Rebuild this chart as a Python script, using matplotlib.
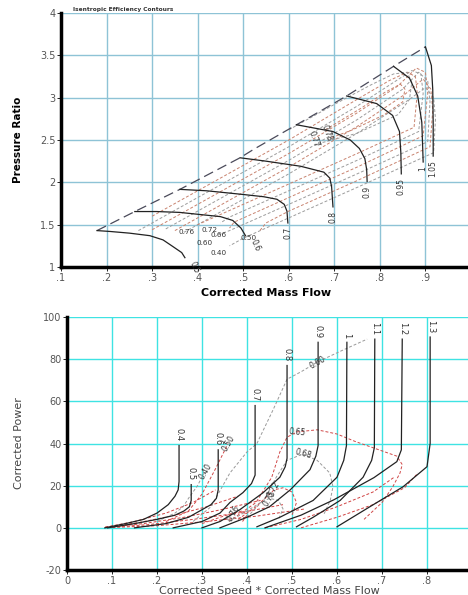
import matplotlib
matplotlib.use('Agg')
import matplotlib.pyplot as plt

# ---------------- top panel: compressor map ----------------
surge_x = [0.179, 0.262, 0.361, 0.493, 0.523, 0.617, 0.727, 0.83, 0.90]
surge_y = [1.43, 1.655, 1.917, 2.29, 2.39, 2.68, 3.02, 3.37, 3.60]

spd_lbl_top = ['0.5', '0.6', '0.7', '0.8', '0.9', '0.95', '1', '1.05']
spd_x_top = [
    [0.179, 0.207, 0.25, 0.295, 0.324, 0.346, 0.365, 0.372],
    [0.262, 0.31, 0.36, 0.405, 0.45, 0.477, 0.495, 0.505],
    [0.361, 0.42, 0.499, 0.545, 0.574, 0.59, 0.596, 0.598],
    [0.493, 0.55, 0.626, 0.677, 0.69, 0.694, 0.697],
    [0.617, 0.697, 0.735, 0.755, 0.767, 0.771, 0.772],
    [0.727, 0.793, 0.828, 0.843, 0.846, 0.847],
    [0.83, 0.865, 0.883, 0.892, 0.894, 0.895],
    [0.90, 0.913, 0.916, 0.917, 0.917],
]
spd_y_top = [
    [1.43, 1.42, 1.40, 1.37, 1.32, 1.24, 1.17, 1.11],
    [1.655, 1.655, 1.645, 1.62, 1.595, 1.55, 1.46, 1.37],
    [1.917, 1.90, 1.857, 1.83, 1.80, 1.74, 1.66, 1.52],
    [2.29, 2.25, 2.19, 2.12, 2.05, 1.95, 1.71],
    [2.68, 2.60, 2.50, 2.40, 2.28, 2.15, 2.01],
    [3.02, 2.93, 2.79, 2.60, 2.35, 2.10],
    [3.37, 3.23, 3.02, 2.71, 2.40, 2.24],
    [3.60, 3.38, 3.10, 2.70, 2.31],
]

eff_lbl_top = ['0.40', '0.50', '0.60', '0.66', '0.72', '0.76', '0.77', '0.78']
eff_x_top = [
    [0.37, 0.45, 0.60, 0.75, 0.865, 0.90, 0.918, 0.922, 0.918, 0.75, 0.60, 0.50, 0.47],
    [0.35, 0.45, 0.60, 0.75, 0.855, 0.895, 0.912, 0.916, 0.91, 0.75, 0.60, 0.55, 0.535],
    [0.33, 0.45, 0.60, 0.75, 0.85, 0.885, 0.905, 0.91, 0.905, 0.75, 0.60, 0.47, 0.44],
    [0.30, 0.45, 0.60, 0.75, 0.84, 0.88, 0.90, 0.905, 0.895, 0.75, 0.60, 0.48, 0.47],
    [0.27, 0.45, 0.60, 0.75, 0.83, 0.87, 0.89, 0.895, 0.885, 0.75, 0.60, 0.47, 0.45],
    [0.30, 0.45, 0.60, 0.75, 0.82, 0.86, 0.878, 0.882, 0.875, 0.75, 0.60, 0.45, 0.40],
    [0.60, 0.70, 0.78, 0.83, 0.86, 0.87, 0.865, 0.84, 0.75, 0.66],
    [0.68, 0.76, 0.81, 0.845, 0.855, 0.85, 0.81, 0.74, 0.69],
]
eff_y_top = [
    [1.41, 1.65, 2.10, 2.58, 2.98, 3.12, 3.00, 2.75, 2.35, 1.94, 1.58, 1.34, 1.25],
    [1.43, 1.73, 2.18, 2.66, 3.04, 3.22, 3.10, 2.85, 2.42, 2.02, 1.66, 1.52, 1.42],
    [1.45, 1.81, 2.26, 2.74, 3.10, 3.30, 3.20, 2.95, 2.48, 2.10, 1.74, 1.43, 1.37],
    [1.44, 1.89, 2.34, 2.82, 3.14, 3.35, 3.30, 3.05, 2.55, 2.18, 1.82, 1.53, 1.46],
    [1.43, 1.97, 2.42, 2.90, 3.18, 3.32, 3.28, 3.05, 2.60, 2.26, 1.90, 1.59, 1.52],
    [1.60, 2.05, 2.50, 2.98, 3.20, 3.30, 3.25, 3.05, 2.65, 2.34, 1.98, 1.62, 1.50],
    [2.62, 2.92, 3.15, 3.28, 3.30, 3.18, 2.98, 2.80, 2.58, 2.45],
    [2.62, 2.88, 3.06, 3.16, 3.10, 2.95, 2.80, 2.62, 2.52],
]

# ---------------- bottom panel: power ----------------
spd_lbl_bot = ['0.4', '0.5', '0.6', '0.7', '0.8', '0.9', '1', '1.1', '1.2', '1.3']
spd_x_bot = [
    [0.084, 0.13, 0.17, 0.20, 0.225, 0.24, 0.247, 0.249, 0.249],
    [0.09, 0.15, 0.20, 0.24, 0.26, 0.272, 0.276, 0.276],
    [0.15, 0.22, 0.27, 0.30, 0.32, 0.332, 0.336, 0.336],
    [0.236, 0.30, 0.34, 0.362, 0.391, 0.41, 0.418, 0.418],
    [0.30, 0.34, 0.384, 0.436, 0.473, 0.485, 0.489, 0.489],
    [0.34, 0.40, 0.45, 0.496, 0.54, 0.553, 0.558, 0.558],
    [0.422, 0.473, 0.547, 0.60, 0.615, 0.621, 0.622],
    [0.51, 0.547, 0.607, 0.658, 0.677, 0.683, 0.684],
    [0.44, 0.52, 0.593, 0.682, 0.733, 0.743, 0.745],
    [0.60, 0.673, 0.747, 0.80, 0.807, 0.807],
]
spd_y_bot = [
    [0, 2, 4, 7, 11, 15, 18, 22, 39],
    [0, 2, 4, 6, 8, 10, 13, 20.5],
    [0, 2, 5, 8.6, 11, 14, 18, 37],
    [0, 3, 7, 12, 16.7, 21, 25, 58],
    [0, 3, 8.6, 16.7, 24, 29, 33, 77],
    [0, 5, 10, 18, 27.6, 34, 39, 88],
    [0.5, 5, 13, 24, 32, 39, 88],
    [0.5, 5, 13, 24, 32, 38, 89.5],
    [0, 6, 13.3, 23.8, 31.4, 37, 89.5],
    [0.5, 10, 19.5, 29, 40, 90.5],
]

eff_lbl_bot = ['0.40', '0.50', '0.60', '0.65', '0.68', '0.72', '0.75', '0.76']
eff_x_bot = [
    [0.20, 0.24, 0.258, 0.27, 0.29, 0.307],
    [0.22, 0.27, 0.30, 0.33, 0.358],
    [0.28, 0.32, 0.362, 0.40, 0.422, 0.458, 0.489, 0.52, 0.556, 0.61, 0.667],
    [0.36, 0.42, 0.455, 0.473, 0.489, 0.511, 0.556, 0.60, 0.64, 0.68, 0.733, 0.745, 0.74, 0.724, 0.70, 0.66],
    [0.40, 0.44, 0.465, 0.489, 0.524, 0.556, 0.584, 0.591, 0.585, 0.57],
    [0.38, 0.42, 0.445, 0.46, 0.48, 0.50, 0.51, 0.50],
    [0.36, 0.40, 0.43, 0.45, 0.47, 0.48, 0.47],
    [0.30, 0.34, 0.37, 0.39, 0.40, 0.39],
]
eff_y_bot = [
    [3, 7, 10, 14, 20, 27],
    [3, 8, 16, 28, 40],
    [3, 10, 26, 36, 40, 56, 70.5, 74, 78.6, 84, 89.5],
    [3, 12, 24, 36, 43, 45.5, 46.5, 44.5, 41, 38, 34, 30, 26, 19.5, 12, 4],
    [5, 14, 24, 32, 35, 32, 26, 19.5, 13, 6],
    [4, 10, 15, 18, 19, 17, 12, 6],
    [3, 8, 12, 14, 13, 9, 4],
    [2, 5, 7, 8, 6, 3],
]
eff_lab_idx = [5, 4, 8, 5, 4, 3, 3, 2]
eff_lab_rot = [60, 60, 30, -5, -15, 60, 60, 60]

# unlabelled dashed lines near the origin fan and lower right
fan_x = [
    [0.085, 0.15, 0.22, 0.28, 0.33],
    [0.085, 0.16, 0.24, 0.31, 0.38],
    [0.085, 0.17, 0.26, 0.34, 0.43],
    [0.09, 0.18, 0.28, 0.38, 0.48],
    [0.09, 0.20, 0.31, 0.42, 0.53],
    [0.44, 0.52, 0.60, 0.68, 0.727],
    [0.52, 0.60, 0.68, 0.75, 0.78],
]
fan_y = [
    [0.3, 3, 7, 12, 18],
    [0.3, 2.5, 6, 10, 15],
    [0.2, 2, 5, 8.5, 13],
    [0.2, 1.5, 4, 7, 11],
    [0.1, 1, 3, 5.5, 9],
    [0, 4, 10, 17, 24],
    [0, 5, 11, 19, 26],
]

fig = plt.figure(figsize=(4.68, 5.95), dpi=100)
fig.patch.set_facecolor('white')

def style_axes(ax, gridcol):
    ax.grid(True, color=gridcol, lw=1.0)
    ax.set_axisbelow(True)
    for s in ['top', 'right']:
        ax.spines[s].set_visible(False)
    for s in ['left', 'bottom']:
        ax.spines[s].set_linewidth(2.5)
    ax.tick_params(labelsize=7, labelcolor='#555555', length=3, width=0.6, pad=1)

# top
ax1 = fig.add_axes([61 / 468, 1 - 267 / 595, 410 / 468, 254 / 595])
style_axes(ax1, '#8ec3d6')
ax1.set_xlim(0.1, 1.0)
ax1.set_ylim(1, 4)
ax1.set_xticks([0.1 * i for i in range(1, 10)])
ax1.set_xticklabels(['.%d' % i for i in range(1, 10)])
ax1.set_yticks([1, 1.5, 2, 2.5, 3, 3.5, 4])
ax1.set_yticklabels(['1', '1.5', '2', '2.5', '3', '3.5', '4'])
ax1.set_xlabel('Corrected Mass Flow', fontsize=8, fontweight='bold', labelpad=4)
ax1.set_ylabel('Pressure Ratio', fontsize=7.5, fontweight='bold', labelpad=12)

ecols = ['#9c9c9c', '#c8826e']
for i, (xs, ys) in enumerate(zip(eff_x_top, eff_y_top)):
    ax1.plot(xs, ys, color=ecols[i % 2], lw=0.7, dashes=(3, 2))
for lbl, xs, ys in zip(eff_lbl_top[:6], eff_x_top[:6], eff_y_top[:6]):
    ax1.annotate(lbl, (xs[-1], ys[-1]), xytext=(-2, -5), textcoords='offset points',
                 fontsize=5.2, ha='right', va='center', color='#333333')
for lbl, xs, ys in zip(eff_lbl_top[6:], eff_x_top[6:], eff_y_top[6:]):
    ax1.annotate(lbl, (xs[-1], ys[-1]), xytext=(-2, 4), textcoords='offset points',
                 fontsize=5.5, ha='center', va='center', rotation=-70, color='#333333')

ax1.plot(surge_x, surge_y, color='#4a4a5a', lw=0.9, dashes=(8, 4))
for i, (lbl, xs, ys) in enumerate(zip(spd_lbl_top, spd_x_top, spd_y_top)):
    ax1.plot(xs, ys, color='#222222', lw=0.9)
    if i < 2:
        ax1.annotate(lbl, (xs[-1], ys[-1]), xytext=(2, -2), textcoords='offset points',
                     fontsize=5.5, rotation=-65, ha='left', va='top', color='#333333')
    else:
        ax1.annotate(lbl, (xs[-1], ys[-1]), xytext=(0, -3), textcoords='offset points',
                     fontsize=5.5, rotation=90, ha='center', va='top', color='#333333')

fig.text(73 / 468, 1 - 10 / 595, 'Isentropic Efficiency Contours', fontsize=4.2,
         fontweight='bold', color='#333333', va='center')

# bottom
ax2 = fig.add_axes([67 / 468, 1 - 570 / 595, 405 / 468, 253 / 595])
style_axes(ax2, '#3fe3e3')
ax2.set_xlim(0, 0.9)
ax2.set_ylim(-20, 100)
ax2.set_xticks([0.1 * i for i in range(0, 10)])
ax2.set_xticklabels(['0'] + ['.%d' % i for i in range(1, 10)])
ax2.set_yticks([-20, 0, 20, 40, 60, 80, 100])
ax2.set_yticklabels(['-20', '0', '20', '40', '60', '80', '100'])
ax2.set_xlabel('Corrected Speed * Corrected Mass Flow', fontsize=8, color='#444444', labelpad=0)
ax2.set_ylabel('Corrected Power', fontsize=8, color='#444444', labelpad=14)

for xs, ys in zip(fan_x, fan_y):
    ax2.plot(xs, ys, color='#d04040', lw=0.7, dashes=(3, 2))
bcols = ['#999999', '#d04848']
for i, (lbl, xs, ys, k, r) in enumerate(zip(eff_lbl_bot, eff_x_bot, eff_y_bot, eff_lab_idx, eff_lab_rot)):
    ax2.plot(xs, ys, color=bcols[i % 2], lw=0.7, dashes=(3, 2))
    ax2.text(xs[k], ys[k], lbl, fontsize=5.5, rotation=r,
             ha='center', va='center', color='#333333')

for lbl, xs, ys in zip(spd_lbl_bot, spd_x_bot, spd_y_bot):
    ax2.plot(xs, ys, color='#222222', lw=0.9)
    ax2.annotate(lbl, (xs[-1], ys[-1]), xytext=(0, 3), textcoords='offset points',
                 fontsize=6, rotation=-90, ha='center', va='bottom', color='#333333')

fig.savefig('out.png', dpi=100)
